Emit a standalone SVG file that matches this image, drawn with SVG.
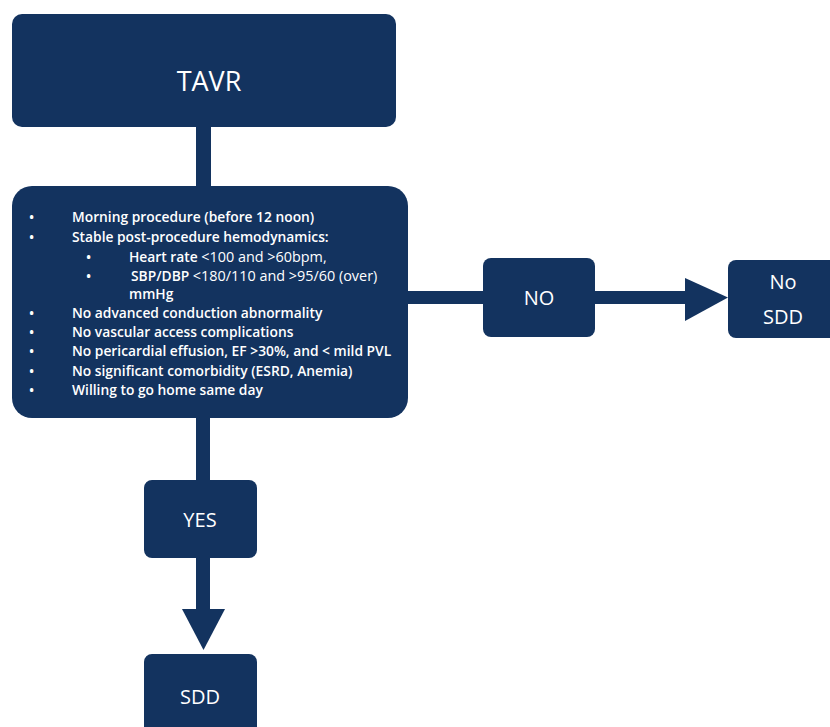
<svg xmlns="http://www.w3.org/2000/svg" width="830" height="727" viewBox="0 0 830 727">
<style>
.box{fill:#13335f}
.lbl{fill:#fff;font-family:"Open Sans","Liberation Sans",sans-serif;text-anchor:middle}
.t{fill:#fff;font-family:"Open Sans","Liberation Sans",sans-serif;font-size:13.8px;font-weight:600}
.r{font-weight:400;font-size:14.4px}
.conn{fill:#13335f}
</style>
<rect width="830" height="727" fill="#fff"/>
<g id="connectors">
<rect class="conn" x="196" y="125" width="15" height="63"/>
<rect class="conn" x="406" y="291" width="80" height="13"/>
<rect class="conn" x="593" y="291" width="93" height="13"/>
<polygon class="conn" points="685,278 728,297.5 685,321"/>
<rect class="conn" x="196" y="416" width="14" height="66"/>
<rect class="conn" x="196" y="556" width="14" height="55"/>
<polygon class="conn" points="182,609 225,609 203.5,650"/>
</g>
<g id="tavr">
<rect class="box" x="12" y="14" width="384" height="113" rx="10"/>
<text class="lbl" x="209" y="91" font-size="27">TAVR</text>
</g>
<g id="criteria">
<rect class="box" x="12" y="186" width="396" height="232" rx="20"/>
<g class="t">
<text x="29" y="222">•</text><text x="72" y="222">Morning procedure (before 12 noon)</text>
<text x="29" y="242">•</text><text x="72" y="242">Stable post-procedure hemodynamics:</text>
<text x="86" y="262">•</text><text x="129" y="262">Heart rate <tspan class="r">&lt;100 and &gt;60bpm,</tspan></text>
<text x="86" y="281">•</text><text x="131" y="281">SBP/DBP <tspan class="r">&lt;180/110 and &gt;95/60 (over)</tspan></text>
<text x="129" y="299">mmHg</text>
<text x="29" y="318">•</text><text x="72" y="318">No advanced conduction abnormality</text>
<text x="29" y="337">•</text><text x="72" y="337">No vascular  access complications</text>
<text x="29" y="356">•</text><text x="72" y="356">No pericardial effusion, EF &gt;30%, and &lt; mild PVL</text>
<text x="29" y="376">•</text><text x="72" y="376">No significant comorbidity (ESRD, Anemia)</text>
<text x="29" y="395">•</text><text x="72" y="395">Willing to go home same day</text>
</g>
</g>
<g id="no">
<rect class="box" x="483" y="258" width="112" height="79" rx="8"/>
<text class="lbl" x="539" y="305" font-size="20">NO</text>
</g>
<g id="nosdd">
<rect class="box" x="728" y="260" width="110" height="78" rx="8"/>
<text class="lbl" x="783" y="289" font-size="20">No</text>
<text class="lbl" x="783" y="324" font-size="20">SDD</text>
</g>
<g id="yes">
<rect class="box" x="144" y="480" width="113" height="78" rx="8"/>
<text class="lbl" x="200" y="527" font-size="20">YES</text>
</g>
<g id="sdd">
<rect class="box" x="144" y="654" width="113" height="85" rx="8"/>
<text class="lbl" x="200" y="704" font-size="20">SDD</text>
</g>
</svg>
